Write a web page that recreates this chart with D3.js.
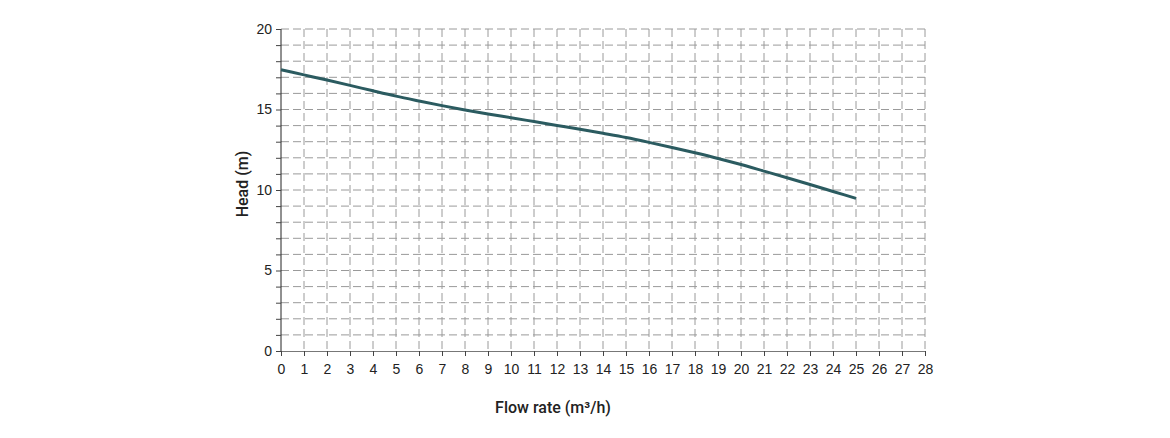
<!DOCTYPE html>
<html>
<head>
<meta charset="utf-8">
<script src="https://cdn.jsdelivr.net/npm/d3@7"></script>
<style>
  html, body { margin: 0; padding: 0; background: #fff; }
  svg { display: block; font-family: Roboto, "Noto Sans", sans-serif; }
</style>
</head>
<body>
<svg id="chart" width="1170" height="438"></svg>
<script>
const flowRate = [0,1,2,3,4,5,6,7,8,9,10,11,12,13,14,15,16,17,18,19,20,21,22,23,24,25];
const head = [17.47,17.15,16.83,16.5,16.16,15.83,15.53,15.24,14.97,14.72,14.49,14.25,14.01,13.77,13.52,13.26,12.96,12.64,12.31,11.96,11.58,11.17,10.76,10.34,9.91,9.48];
const xTicks = d3.range(0, 29, 1);
const yTicks = d3.range(0, 21, 1);
const yLabelTicks = [0, 5, 10, 15, 20];
const xTitle = "Flow rate (m³/h)";
const yTitle = "Head (m)";

const svg = d3.select("#chart");
const mLeft = 281, mRight = 925, mTop = 29, mBottom = 351;

const x = d3.scaleLinear().domain([0, 28]).range([mLeft, mRight]);
const y = d3.scaleLinear().domain([0, 20]).range([mBottom, mTop]);

// grid
const grid = svg.append("g");
grid.selectAll("line.v").data(xTicks.filter(d => d > 0)).join("line")
  .attr("x1", d => x(d)).attr("x2", d => x(d))
  .attr("y1", mTop).attr("y2", mBottom)
  .attr("stroke", "#9a9a9a").attr("stroke-width", 1).attr("stroke-dasharray", "8,4");
grid.selectAll("line.h").data(yTicks.filter(d => d > 0)).join("line")
  .attr("x1", mLeft).attr("x2", mRight)
  .attr("y1", d => y(d)).attr("y2", d => y(d))
  .attr("stroke", "#9a9a9a").attr("stroke-width", 1).attr("stroke-dasharray", "8,4");

// x axis
const xAxis = svg.append("g").attr("transform", `translate(0,${mBottom})`)
  .call(d3.axisBottom(x).tickValues(xTicks).tickSize(5).tickPadding(8).tickFormat(d3.format("d")));
xAxis.select(".domain").attr("stroke", "#777");
xAxis.selectAll(".tick line").attr("stroke", "#444");
xAxis.selectAll("text").attr("font-size", 14).attr("fill", "#222");

// y axis
const yAxis = svg.append("g").attr("transform", `translate(${mLeft},0)`)
  .call(d3.axisLeft(y).tickValues(yTicks).tickSize(5).tickPadding(4)
    .tickFormat(d => yLabelTicks.includes(d) ? d : ""));
yAxis.select(".domain").attr("stroke", "#222").attr("d", `M0,${mTop}V${mBottom}`);
yAxis.selectAll(".tick line").attr("stroke", "#444");
yAxis.selectAll("text").attr("font-size", 14).attr("fill", "#222");

// line
const line = d3.line().x((d, i) => x(flowRate[i])).y(d => y(d)).curve(d3.curveMonotoneX);
svg.append("path").datum(head)
  .attr("d", line)
  .attr("fill", "none")
  .attr("stroke", "#2b5b60")
  .attr("stroke-width", 3)
  .attr("stroke-linecap", "butt");

// titles
svg.append("text").attr("x", 553).attr("y", 413)
  .attr("text-anchor", "middle").attr("font-size", 16).attr("font-weight", 500)
  .attr("fill", "#222").text(xTitle);
svg.append("text").attr("transform", `translate(248,184) rotate(-90)`)
  .attr("text-anchor", "middle").attr("font-size", 16).attr("font-weight", 500)
  .attr("fill", "#222").text(yTitle);
</script>
</body>
</html>
